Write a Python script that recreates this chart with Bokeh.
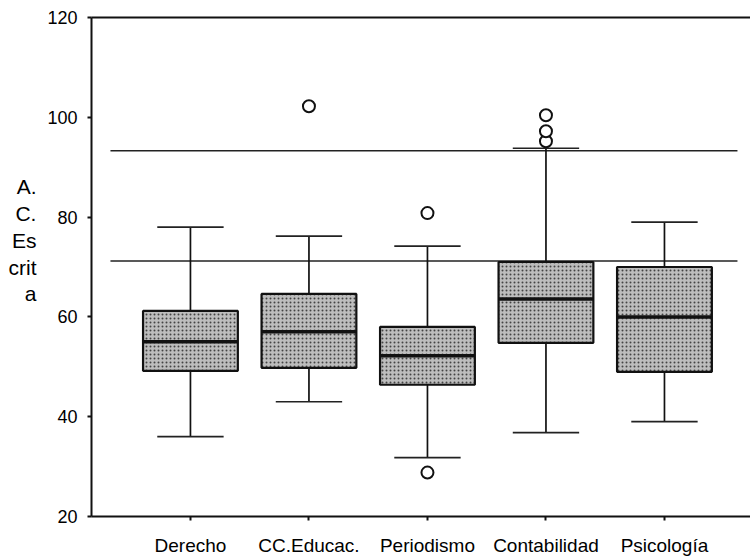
from bokeh.plotting import figure
from bokeh.models import FixedTicker, LinearAxis, Range1d, ColumnDataSource
from bokeh.embed import file_html
from bokeh.resources import INLINE

categories = ["Derecho", "CC.Educac.", "Periodismo", "Contabilidad", "Psicología"]
q1 = [49.2, 49.8, 46.4, 54.8, 49.0]
medians = [55.0, 57.0, 52.2, 63.6, 60.0]
q3 = [61.2, 64.6, 58.0, 71.0, 70.0]
whisker_low = [36.0, 43.0, 31.8, 36.8, 39.0]
whisker_high = [78.0, 76.2, 74.2, 93.8, 79.0]
outlier_cat = ["CC.Educac.", "Periodismo", "Periodismo", "Contabilidad", "Contabilidad", "Contabilidad"]
outlier_val = [102.2, 80.8, 28.8, 95.2, 97.2, 100.4]
ref_lines = [93.3, 71.2]
y_ticks = [20, 40, 60, 80, 100, 120]
y_title_lines = ["A.", "C.", "Es", "crit", "a"]

FONT = "Liberation Sans"
BOX_W = 0.8
CAP_W = 0.56

xpos = list(range(1, len(categories) + 1))
pos = {c: i for c, i in zip(categories, xpos)}

p = figure(width=750, height=558, output_backend="svg", toolbar_location=None,
           x_range=Range1d(0.165, 5.726), y_range=Range1d(20, 120),
           min_border_left=91, min_border_right=0, min_border_top=17, min_border_bottom=40)
p.outline_line_color = None
p.grid.visible = False
p.background_fill_color = "white"
p.border_fill_color = "white"

# axes
for ax in (p.xaxis[0], p.yaxis[0]):
    ax.axis_line_width = 2
    ax.axis_line_color = "#111111"
    ax.major_tick_line_color = "#111111"
    ax.major_tick_line_width = 2
    ax.major_tick_in = 0
    ax.major_tick_out = 4
    ax.minor_tick_line_color = None
    ax.major_label_text_font = FONT
    ax.major_label_text_color = "#000000"

p.xaxis.ticker = FixedTicker(ticks=xpos)
p.xaxis.major_label_overrides = {i: c for i, c in zip(xpos, categories)}
p.xaxis.major_label_text_font_size = "19px"
p.xaxis.major_label_standoff = 14

p.yaxis.ticker = FixedTicker(ticks=y_ticks)
p.yaxis.major_label_text_font_size = "18px"
p.yaxis.major_label_standoff = 10
# stacked title; two empty trailing lines lift the block above the frame centre as in the original
p.yaxis.axis_label = "\n".join(y_title_lines + [" ", " "])
p.yaxis.axis_label_orientation = "horizontal"
p.yaxis.axis_label_text_font = FONT
p.yaxis.axis_label_text_font_style = "normal"
p.yaxis.axis_label_text_font_size = "21px"
p.yaxis.axis_label_text_color = "#000000"
p.yaxis.axis_label_text_line_height = 1.17
p.yaxis.axis_label_standoff = 8

top = LinearAxis(ticker=FixedTicker(ticks=[]), axis_line_width=2, axis_line_color="#111111",
                 major_tick_line_color=None, minor_tick_line_color=None,
                 major_label_text_font_size="0px")
p.add_layout(top, "above")

# reference lines
p.segment(x0=[0.325] * len(ref_lines), x1=[5.616] * len(ref_lines), y0=ref_lines, y1=ref_lines,
          line_color="#222222", line_width=1.6)

# whiskers
p.segment(x0=xpos, x1=xpos, y0=whisker_low, y1=q1, line_color="#111111", line_width=1.7)
p.segment(x0=xpos, x1=xpos, y0=q3, y1=whisker_high, line_color="#111111", line_width=1.7)
caps_x0 = [x - CAP_W / 2 for x in xpos]
caps_x1 = [x + CAP_W / 2 for x in xpos]
p.segment(x0=caps_x0, x1=caps_x1, y0=whisker_low, y1=whisker_low, line_color="#222222", line_width=1.7)
p.segment(x0=caps_x0, x1=caps_x1, y0=whisker_high, y1=whisker_high, line_color="#222222", line_width=1.7)

# boxes
src = ColumnDataSource(dict(x=xpos, q1=q1, q3=q3, med=medians))
p.vbar(x="x", width=BOX_W, bottom="q1", top="q3", source=src,
       fill_color="#bdbdbd", line_color="#111111", line_width=2.2,
       hatch_pattern="dot", hatch_color="#444444", hatch_scale=4, hatch_weight=1.3)
p.segment(x0=[x - BOX_W / 2 for x in xpos], x1=[x + BOX_W / 2 for x in xpos],
          y0=medians, y1=medians, line_color="#111111", line_width=3.5)

# outliers
p.scatter(x=[pos[c] for c in outlier_cat], y=outlier_val, size=12, marker="circle",
          fill_color="white", line_color="#111111", line_width=2)

open("out.html", "w").write(file_html(p, INLINE))
